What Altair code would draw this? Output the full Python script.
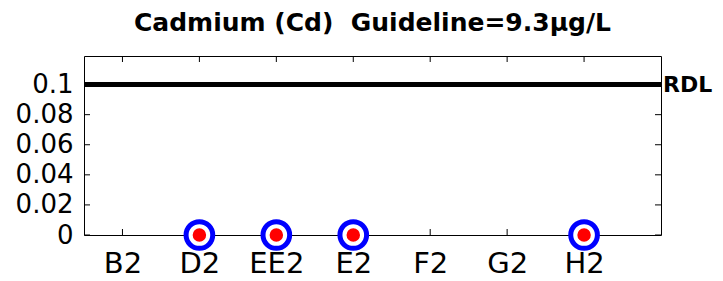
import json
import altair as alt
import pandas as pd

# ---- data ----
sites = ["B2", "D2", "EE2", "E2", "F2", "G2", "H2"]
measured_sites = ["D2", "EE2", "E2", "H2"]
measured_values = [0, 0, 0, 0]
y_ticks = [0, 0.02, 0.04, 0.06, 0.08, 0.1]
rdl_value = 0.1
rdl_label = "RDL"
title_text = "Cadmium (Cd)\u00a0 Guideline=9.3\u00b5g/L"

W, H = 577, 179
pos = {s: i + 1 for i, s in enumerate(sites)}

pts = pd.DataFrame({"site": measured_sites, "value": measured_values})
pts["pos"] = pts["site"].map(pos)
xt = pd.DataFrame({"pos": [pos[s] for s in sites]})
yt = pd.DataFrame({"value": y_ticks})
rdl = pd.DataFrame({"value": [rdl_value], "label": [rdl_label]})

xscale = alt.Scale(domain=[0.5, len(sites) + 1], nice=False, zero=False)
yscale = alt.Scale(domain=[0, 0.119], nice=False, zero=False)

label_expr = json.dumps(sites).replace('"', "'") + "[datum.value - 1]"

xaxis = alt.Axis(values=list(range(1, len(sites) + 1)), labelExpr=label_expr,
                 ticks=False, domain=False, grid=False, labelPadding=14,
                 labelFontSize=29, labelFont="DejaVu Sans", labelColor="black",
                 title=None, labelAngle=0)
yaxis = alt.Axis(values=y_ticks, format=".2~f", ticks=False, domain=False,
                 grid=False, labelPadding=11, labelFontSize=26,
                 labelFont="DejaVu Sans", labelColor="black", title=None)

X = alt.X("pos:Q", scale=xscale, axis=xaxis)
Y = alt.Y("value:Q", scale=yscale, axis=yaxis)

outer = alt.Chart(pts).mark_circle(size=711, color="white", stroke="#0000ff",
                                   strokeWidth=5, opacity=1).encode(x=X, y=Y)
inner = alt.Chart(pts).mark_circle(size=225, color="#ff0000", stroke="white",
                                   strokeWidth=1.5, opacity=1).encode(x=X, y=Y)

tick_len = 6
xt_bottom = alt.Chart(xt).mark_rule(color="black", strokeWidth=1).encode(
    x=X, y=alt.value(H), y2=alt.value(H - tick_len))
xt_top = alt.Chart(xt).mark_rule(color="black", strokeWidth=1).encode(
    x=X, y=alt.value(0), y2=alt.value(tick_len))
yt_left = alt.Chart(yt).mark_rule(color="black", strokeWidth=1).encode(
    y=Y, x=alt.value(0), x2=alt.value(tick_len))
yt_right = alt.Chart(yt).mark_rule(color="black", strokeWidth=1).encode(
    y=Y, x=alt.value(W), x2=alt.value(W - tick_len))

rdl_line = alt.Chart(rdl).mark_rule(color="black", strokeWidth=5).encode(
    y=Y, x=alt.value(0), x2=alt.value(W))
rdl_text = alt.Chart(rdl).mark_text(align="left", baseline="middle", dx=2,
                                    fontSize=22, fontWeight="bold",
                                    font="DejaVu Sans", color="black").encode(
    y=Y, x=alt.value(W), text="label:N")

chart = alt.layer(
    xt_bottom, xt_top, yt_left, yt_right, rdl_line, outer, inner, rdl_text
).properties(
    width=W, height=H,
    background="white",
    title=alt.TitleParams(title_text, fontSize=25, fontWeight="bold",
                          font="DejaVu Sans", color="black", anchor="middle",
                          offset=20),
    autosize=alt.AutoSizeParams(type="none"),
    padding={"left": 76, "top": 48, "right": 54, "bottom": 38},
).configure_view(stroke="black", strokeWidth=1)

chart.save("out.html", embed_options={"renderer": "svg", "actions": False})
